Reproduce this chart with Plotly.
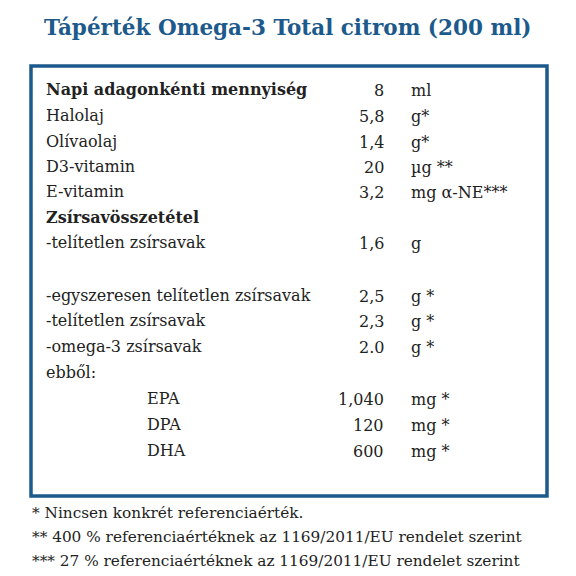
import plotly.graph_objects as go

title = "Tápérték Omega-3 Total citrom (200 ml)"
labels = ["Napi adagonkénti mennyiség", "Halolaj", "Olívaolaj", "D3-vitamin", "E-vitamin",
          "Zsírsavösszetétel", "-telítetlen zsírsavak", "",
          "-egyszeresen telítetlen zsírsavak", "-telítetlen zsírsavak", "-omega-3 zsírsavak",
          "ebből:", "EPA", "DPA", "DHA"]
values = ["8", "5,8", "1,4", "20", "3,2", "", "1,6", "", "2,5", "2,3", "2.0", "", "1,040", "120", "600"]
units = ["ml", "g*", "g*", "µg **", "mg α-NE***", "", "g", "", "g *", "g *", "g *", "", "mg *", "mg *", "mg *"]
bold_rows = [0, 5]
indented_rows = [12, 13, 14]
footnotes = ["* Nincsen konkrét referenciaérték.",
             "** 400 % referenciaértéknek az 1169/2011/EU rendelet szerint",
             "*** 27 % referenciaértéknek az 1169/2011/EU rendelet szerint"]

BLUE = "#1d5a8c"
FONT = "DejaVu Serif"
fig = go.Figure()
fig.add_trace(go.Scatter(x=[0, 576], y=[0, 576], mode="markers", marker=dict(opacity=0), hoverinfo="skip"))
ann = [dict(x=288, y=27, text="<b>" + title + "</b>", showarrow=False, xanchor="center",
            font=dict(family=FONT, size=21.5, color=BLUE))]
row_y = [89, 115, 141, 166, 191, 217, 242, 268, 295, 320, 346, 372, 398, 424, 450]
for i, lab in enumerate(labels):
    y = row_y[i]
    t = "<b>" + lab + "</b>" if i in bold_rows else lab
    if lab:
        ann.append(dict(x=145 if i in indented_rows else 44, y=y, text=t, showarrow=False, xanchor="left",
                        font=dict(family=FONT, size=16, color="#222")))
    if values[i]:
        ann.append(dict(x=386, y=y + 1, text=values[i], showarrow=False, xanchor="right",
                        font=dict(family=FONT, size=16, color="#222")))
    if units[i]:
        ann.append(dict(x=409, y=y + 1, text=units[i], showarrow=False, xanchor="left",
                        font=dict(family=FONT, size=16, color="#222")))
for j, f in enumerate(footnotes):
    ann.append(dict(x=30, y=513 + 24 * j, text=f, showarrow=False, xanchor="left",
                    font=dict(family=FONT, size=15.3, color="#222")))
fig.update_layout(
    width=576, height=576, margin=dict(l=0, r=0, t=0, b=0),
    paper_bgcolor="white", plot_bgcolor="white", showlegend=False,
    xaxis=dict(range=[8, 584], visible=False, fixedrange=True),
    yaxis=dict(range=[584, 8], visible=False, fixedrange=True),
    annotations=ann,
    shapes=[dict(type="rect", x0=31, x1=547, y0=66, y1=496, line=dict(color=BLUE, width=3.5))],
)
fig.write_html("out.html")
